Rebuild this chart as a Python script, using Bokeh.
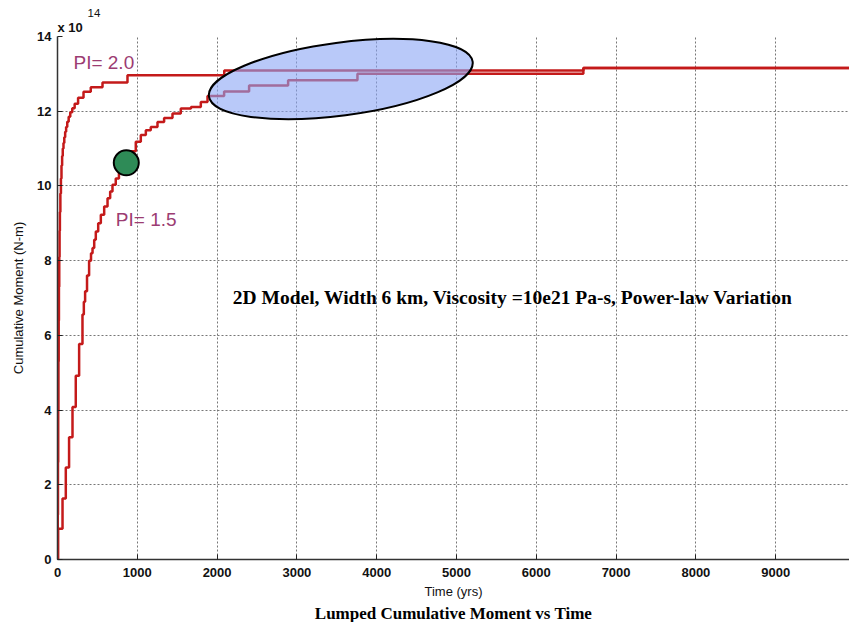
from bokeh.plotting import figure
from bokeh.models import Range1d, Label, Title, FixedTicker
from bokeh.embed import file_html
from bokeh.resources import INLINE

# Lumped cumulative moment (units of 1e14 N-m) versus time (yrs), step series
# Each pair: time of a moment release, cumulative moment after that release.
time_pi20 = [0, 3, 6, 9, 12, 15, 18, 22, 26, 30, 36, 43, 50, 58, 66, 75, 85, 96,
             108, 122, 140, 160, 185, 215, 258, 326, 417, 564, 877, 2090, 6590, 10000]
moment_pi20 = [0, 1.2, 2.6, 4.0, 5.3, 6.4, 7.3, 8.1, 8.8, 9.3, 9.8, 10.2, 10.55, 10.8,
               11.0, 11.15, 11.3, 11.45, 11.58, 11.72, 11.85, 11.97, 12.08, 12.2, 12.36,
               12.52, 12.64, 12.77, 12.96, 13.09, 13.16, 13.16]

time_pi15 = [0, 8, 63, 104, 145, 188, 229, 271, 313, 330, 346, 370, 396, 420, 439, 460,
             480, 510, 543, 585, 627, 660, 689, 730, 770, 815, 860, 919, 981, 1044, 1107,
             1169, 1253, 1336, 1441, 1545, 1673, 1796, 1880, 2088, 2401, 2890, 3759, 6590, 10000]
moment_pi15 = [0, 0.82, 1.63, 2.46, 3.27, 4.08, 4.92, 5.77, 6.56, 6.9, 7.18, 7.6, 8.0, 8.2,
               8.34, 8.56, 8.78, 9.0, 9.23, 9.45, 9.67, 9.85, 10.03, 10.2, 10.38, 10.56,
               10.74, 10.93, 11.18, 11.36, 11.49, 11.58, 11.71, 11.82, 11.94, 12.07, 12.11,
               12.25, 12.41, 12.53, 12.69, 12.83, 13.0, 13.16, 13.16]

# highlighted point on the PI = 1.5 curve
marker_time = [862]
marker_moment = [10.62]

# highlighted late-time region
region_time = [3550]
region_moment = [12.86]

x_ticks = [0, 1000, 2000, 3000, 4000, 5000, 6000, 7000, 8000, 9000]
y_ticks = [0, 2, 4, 6, 8, 10, 12, 14]

LINE_RED = "#c41a1a"
LABEL_PURPLE = "#9c3c72"

p = figure(width=849, height=622, output_backend="svg", toolbar_location=None,
           x_range=Range1d(0, 9925), y_range=Range1d(0, 14),
           min_border_left=57, min_border_right=0, min_border_top=36, min_border_bottom=63)
p.outline_line_color = None
p.background_fill_color = "white"
p.border_fill_color = "white"

# axes
for ax in (p.xaxis, p.yaxis):
    ax.major_tick_in = 5
    ax.major_tick_out = 0
    ax.minor_tick_in = 0
    ax.minor_tick_out = 0
    ax.major_tick_line_color = "#222222"
    ax.axis_line_color = "#333333"
    ax.axis_line_width = 1.5
    ax.major_label_text_font = "Liberation Sans"
    ax.major_label_text_font_size = "13px"
    ax.major_label_text_font_style = "bold"
    ax.major_label_text_color = "#111111"
    ax.axis_label_text_font = "Liberation Sans"
    ax.axis_label_text_font_style = "normal"
    ax.axis_label_text_color = "#111111"

p.xaxis.ticker = FixedTicker(ticks=x_ticks)
p.yaxis.ticker = FixedTicker(ticks=y_ticks)
p.xaxis.major_label_standoff = 8
p.yaxis.major_label_standoff = 6
p.xaxis.axis_label = "Time (yrs)"
p.xaxis.axis_label_text_font_size = "13px"
p.xaxis.axis_label_standoff = 4
p.yaxis.axis_label = "Cumulative Moment (N-m)"
p.yaxis.axis_label_text_font_size = "13px"
p.yaxis.axis_label_standoff = 8

# dotted grid
for g in (p.xgrid, p.ygrid):
    g.grid_line_color = "#777777"
    g.grid_line_dash = "2 2"
    g.grid_line_width = 1
p.xgrid.ticker = FixedTicker(ticks=x_ticks)
p.ygrid.ticker = FixedTicker(ticks=y_ticks)

# cumulative moment curves
p.step(time_pi20, moment_pi20, mode="after", line_color=LINE_RED, line_width=2.5)
p.step(time_pi15, moment_pi15, mode="after", line_color=LINE_RED, line_width=2.5)

# translucent ellipse over the late-time plateau
p.ellipse(x=region_time, y=region_moment, width=266, height=73, angle=0.131,
          width_units="screen", height_units="screen",
          fill_color="#8aa5f5", fill_alpha=0.6, line_color="black", line_width=2)

# green marker
p.scatter(marker_time, marker_moment, size=25, fill_color="#2e8b57",
          line_color="black", line_width=2)

# curve labels
for txt, tx, ty in (("PI= 2.0", 200, 13.31), ("PI= 1.5", 731, 9.09)):
    p.add_layout(Label(x=tx, y=ty, text=txt, text_font="Liberation Sans",
                       text_font_size="19px", text_color=LABEL_PURPLE,
                       text_baseline="alphabetic", text_align="left"))

p.add_layout(Label(x=2197, y=7.02, text="2D Model, Width 6 km, Viscosity =10e21 Pa-s, Power-law Variation",
                   text_font="Liberation Serif", text_font_size="19.5px", text_font_style="bold",
                   text_color="black", text_baseline="middle", text_align="left"))

# exponent multiplier above the y axis (base, then superscript above it)
p.add_layout(Title(text="x 10", align="left", offset=0, standoff=3,
                   text_font="Liberation Sans", text_font_size="13px",
                   text_font_style="bold", text_color="#111111"), "above")
p.add_layout(Title(text="14", align="left", offset=30, standoff=0,
                   text_font="Liberation Sans", text_font_size="11.5px",
                   text_font_style="normal", text_color="#111111"), "above")

p.add_layout(Title(text="Lumped Cumulative Moment vs Time", align="center", offset=-12,
                   text_font="Liberation Serif", text_font_size="17px",
                   text_font_style="bold", text_color="black", standoff=0), "below")

open("out.html", "w").write(file_html(p, INLINE))
